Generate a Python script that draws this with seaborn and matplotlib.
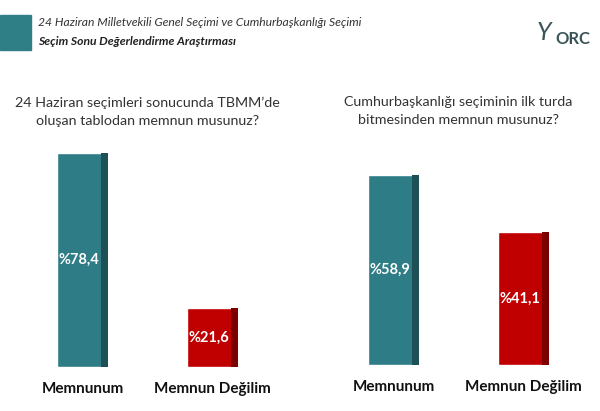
import matplotlib
matplotlib.use('Agg')
import matplotlib.pyplot as plt
import seaborn as sns
import pandas as pd
from matplotlib.patches import Rectangle

sns.set_style('white')
plt.rcParams['font.family'] = ['Lato', 'DejaVu Sans']

# data
categories = ['Memnunum', 'Memnun Değilim']
q1_values = [78.4, 21.6]
q2_values = [58.9, 41.1]
questions = ["24 Haziran seçimleri sonucunda TBMM’de\noluşan tablodan memnun musunuz?",
             "Cumhurbaşkanlığı seçiminin ilk turda\nbitmesinden memnun musunuz?"]
header_1 = "24 Haziran Milletvekili Genel Seçimi ve Cumhurbaşkanlığı Seçimi"
header_2 = "Seçim Sonu Değerlendirme Araştırması"

face_colors = ['#2e7c86', '#c00000']
side_colors = ['#1d5057', '#7d0000']
teal = '#2f7f87'

fig = plt.figure(figsize=(6, 4.11), dpi=100)

# header
fig.patches.append(Rectangle((0, 0.878), 0.052, 0.085, transform=fig.transFigure,
                             color=teal, zorder=0))
fig.text(0.063, 0.946, header_1, fontsize=8.7, style='italic', color='#333333', va='center')
fig.text(0.063, 0.898, header_2, fontsize=8.7, style='italic', fontweight='bold',
         color='#222222', va='center')
# logo (rough)
fig.text(0.955, 0.905, 'ORC', fontsize=12, color='#3b5458', va='center', ha='center',
         fontweight='bold')
fig.text(0.907, 0.922, 'Y', fontsize=18, color='#3b5458', va='center', ha='center',
         style='italic')

axes_boxes = [[0.0292, 0.107, 0.4333, 0.528], [0.5475, 0.112, 0.4333, 0.528]]
ylims = [79.5, 67.2]

for box, vals, q, top in zip(axes_boxes, [q1_values, q2_values], questions, ylims):
    ax = fig.add_axes(box)
    df = pd.DataFrame({'cat': categories, 'val': vals})
    sns.barplot(data=df, x='cat', y='val', hue='cat', palette=face_colors,
                width=0.39, legend=False, ax=ax, saturation=1)
    ax.set_xlim(-0.5, 1.5)
    ax.set_ylim(0, top)
    for p, sc, v in zip(ax.patches, side_colors, vals):
        w = p.get_width()
        ax.add_patch(Rectangle((p.get_x() + w * 0.86, 0), w * 0.14, p.get_height(),
                               color=sc, lw=0))
        ax.text(p.get_x() + w * 0.43, p.get_height() / 2,
                '%' + f'{v:.1f}'.replace('.', ','), color='white', fontsize=10.5,
                fontweight='bold', ha='center', va='center')
    ax.set_xlabel('')
    ax.set_ylabel('')
    ax.set_yticks([])
    ax.tick_params(axis='x', length=0, pad=11)
    for lab in ax.get_xticklabels():
        lab.set_fontweight('bold')
        lab.set_fontsize(11)
        lab.set_color('#111111')
    sns.despine(ax=ax, left=True, bottom=True)
    cx = box[0] + box[2] / 2
    fig.text(cx, 0.729, q, fontsize=10.3, color='#333333', ha='center', va='center',
             linespacing=1.6)

fig.savefig('out.png', dpi=100)
